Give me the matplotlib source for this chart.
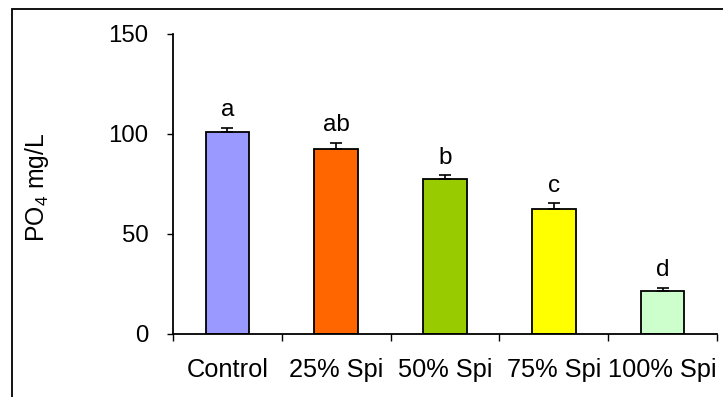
import numpy as np
import matplotlib
matplotlib.use("Agg")
import matplotlib.pyplot as plt
from matplotlib.patches import Rectangle

# datos
categorias = ["Control", "25% Spi", "50% Spi", "75% Spi", "100% Spi"]
valores = [101.2, 92.7, 77.7, 62.5, 21.5]
errores = [2.0, 3.0, 1.8, 3.1, 1.7]
letras = ["a", "ab", "b", "c", "d"]
colores = ["#9999FF", "#FF6600", "#99CC00", "#FFFF00", "#CCFFCC"]
marcas_y = [0, 50, 100, 150]

plt.rcParams["font.family"] = ["Liberation Sans", "DejaVu Sans"]
plt.rcParams["mathtext.default"] = "regular"

fig = plt.figure(figsize=(7.23, 3.97), dpi=100)
ax = fig.add_axes([173 / 723, 1 - 334 / 397, 544 / 723, 300 / 397])

x = np.arange(len(categorias))
ax.bar(x, valores, width=0.4, color=colores, edgecolor="black", linewidth=1.3,
       yerr=[np.zeros(len(errores)), errores], capsize=4,
       error_kw=dict(ecolor="black", elinewidth=1.2, capthick=1.2))

# letras de significancia
for xi, v, e, l in zip(x, valores, errores, letras):
    ax.annotate(l, (xi, v + e), xytext=(0, 8), textcoords="offset points",
                ha="center", va="baseline", fontsize=17.5)

ax.set_xlim(-0.5, len(categorias) - 0.5)
ax.set_ylim(0, 150)
ax.set_yticks(marcas_y)
ax.tick_params(axis="y", labelsize=17.3, length=4.5, width=1, direction="out", pad=13)

ax.set_xticks(x)
ax.set_xticklabels(categorias)
ax.tick_params(axis="x", which="major", length=0, labelsize=18.3, pad=17)
ax.set_xticks(np.arange(-0.5, len(categorias)), minor=True)
ax.tick_params(axis="x", which="minor", length=5, width=1, direction="out")

for s in ["top", "right"]:
    ax.spines[s].set_visible(False)
for s in ["left", "bottom"]:
    ax.spines[s].set_linewidth(1.3)

ax.set_ylabel("PO$_4$ mg/L", fontsize=17.8)
ax.yaxis.set_label_coords(-0.224, 0.49)

# marco de la figura
marco = Rectangle((12 / 723, -0.2), 1.2, 1 - 9 / 397 + 0.2, transform=fig.transFigure,
                  fill=False, edgecolor="black", linewidth=1.3, clip_on=False)
fig.patches.append(marco)

fig.savefig("out.png", dpi=100)
